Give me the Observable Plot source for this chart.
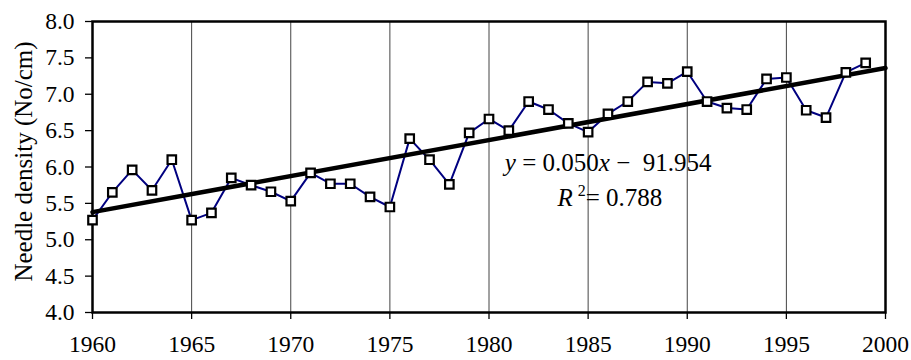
<!DOCTYPE html>
<html>
<head>
<meta charset="utf-8">
<script src="https://cdn.jsdelivr.net/npm/d3@7"></script>
<script src="https://cdn.jsdelivr.net/npm/@observablehq/plot@0.6"></script>
<style>
  html, body { margin: 0; padding: 0; background: #fff; font-family: 'Liberation Serif', serif; }
  #chart { width: 911px; height: 360px; }
</style>
</head>
<body>
<div id="chart"></div>
<script>
const years = [1960,1961,1962,1963,1964,1965,1966,1967,1968,1969,
               1970,1971,1972,1973,1974,1975,1976,1977,1978,1979,
               1980,1981,1982,1983,1984,1985,1986,1987,1988,1989,
               1990,1991,1992,1993,1994,1995,1996,1997,1998,1999];
const density = [5.27,5.65,5.96,5.68,6.10,5.27,5.37,5.85,5.75,5.66,
                 5.53,5.92,5.77,5.77,5.59,5.45,6.39,6.10,5.76,6.47,
                 6.66,6.50,6.90,6.79,6.60,6.48,6.73,6.90,7.17,7.15,
                 7.31,6.90,6.81,6.79,7.21,7.23,6.78,6.68,7.30,7.43];
const trendYears = [1960, 2000];
const trendValues = [5.38, 7.36];
const xTicks = [1960,1965,1970,1975,1980,1985,1990,1995,2000];
const yTicks = [4.0,4.5,5.0,5.5,6.0,6.5,7.0,7.5,8.0];
const yLabel = "Needle density (No/cm)";
const eqLine1 = "y = 0.050x \u2212  91.954";
const eqLine2 = "R 2 = 0.788";

const FONT = "'Liberation Serif', Tinos, 'Times New Roman', serif";

const data = years.map((y, i) => ({year: y, value: density[i]}));
const trend = trendYears.map((y, i) => ({year: y, value: trendValues[i]}));

const plot = Plot.plot({
  width: 911,
  height: 360,
  marginLeft: 92,
  marginRight: 26,
  marginTop: 21,
  marginBottom: 48,
  style: `font-family: ${FONT}; font-size: 23.5px; color: #000; background: #fff;`,
  x: {domain: [1960, 2000], ticks: xTicks, tickFormat: d => String(d)},
  y: {domain: [4, 8], ticks: yTicks, tickFormat: d => d.toFixed(1)},
  marks: [
    Plot.ruleX(xTicks.slice(1, -1), {stroke: "#444", strokeWidth: 1}),
    Plot.axisX({ticks: xTicks, tickFormat: d => String(d), tickSize: 7, tickPadding: 16, stroke: "#000", strokeWidth: 1.3, label: null, fontSize: 23.5}),
    Plot.axisY({ticks: yTicks, tickFormat: d => d.toFixed(1), tickSize: 7, tickPadding: 11, stroke: "#000", strokeWidth: 1.3, label: null, fontSize: 23.5}),
    Plot.frame({stroke: "#000", strokeWidth: 2.5}),
    Plot.line(data, {x: "year", y: "value", stroke: "#000080", strokeWidth: 2}),
    Plot.line(trend, {x: "year", y: "value", stroke: "#000", strokeWidth: 4.5}),
    Plot.dot(data, {x: "year", y: "value", symbol: "square", r: 4.8, fill: "#fff", stroke: "#000", strokeWidth: 2.2}),
    Plot.text([eqLine1], {x: 1980.8, y: 5.95, text: d => d, textAnchor: "start", lineAnchor: "bottom", fontSize: 25, fill: "#000", className: "eq1"}),
    Plot.text([eqLine2], {x: 1983.45, y: 5.47, text: d => d, textAnchor: "start", lineAnchor: "bottom", fontSize: 25, fill: "#000", className: "eq2"})
  ]
});

document.getElementById("chart").appendChild(plot);

// Rich formatting of the regression annotation (italic variables, superscript)
const svg = d3.select(plot);
svg.selectAll("g.eq1 text").each(function() {
  const t = d3.select(this);
  t.text(null);
  t.append("tspan").attr("font-style", "italic").text("y");
  t.append("tspan").text(" = 0.050");
  t.append("tspan").attr("font-style", "italic").text("x");
  t.append("tspan").style("white-space", "pre").text(" \u2212  91.954");
});
svg.selectAll("g.eq2 text").each(function() {
  const t = d3.select(this);
  t.text(null);
  t.append("tspan").attr("font-style", "italic").text("R");
  t.append("tspan").attr("dx", "5").attr("dy", "-10").attr("font-size", "16").text("2");
  t.append("tspan").attr("dy", "10").text("= 0.788");
});

// Y-axis title
svg.append("text")
  .attr("transform", `translate(23,${(21 + 312) / 2 - 5}) rotate(-90)`)
  .attr("text-anchor", "middle")
  .attr("dominant-baseline", "central")
  .attr("font-size", 25)
  .attr("fill", "#000")
  .text(yLabel);

// Serif family on every text element
svg.selectAll("text").style("font-family", FONT);
</script>
</body>
</html>
